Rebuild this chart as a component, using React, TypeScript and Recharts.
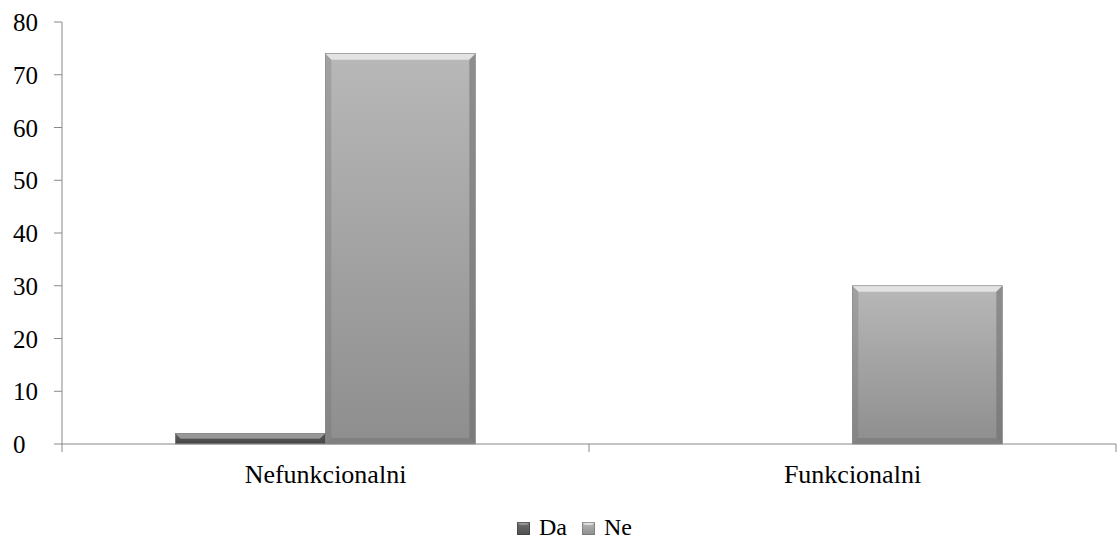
import { Bar, BarChart, Legend, XAxis, YAxis } from "recharts";

const categories = ["Nefunkcionalni", "Funkcionalni"];
const daValues = [2, 0];
const neValues = [74, 30];
const yTicks = [0, 10, 20, 30, 40, 50, 60, 70, 80];

const data = categories.map((name, i) => ({
  name,
  Da: daValues[i],
  Ne: neValues[i],
}));

const W = 1117;
const H = 544;
const LEFT = 62;
const RIGHT = 1;
const BAND = (W - LEFT - RIGHT) / categories.length;
const FONT = "Liberation Serif, Times New Roman, DejaVu Serif, serif";

const palette: Record<string, { top: string; bottom: string; light: string; dark: string }> = {
  Da: { top: "#707070", bottom: "#4e4e4e", light: "#a0a0a0", dark: "#3c3c3c" },
  Ne: { top: "#b8b8b8", bottom: "#8e8e8e", light: "#eaeaea", dark: "#6c6c6c" },
};

function BevelBar(props: any) {
  const { x, y, width, height, dataKey } = props;
  if (!height || height <= 0) return null;
  const c = palette[dataKey];
  const b = Math.min(6, height / 2, width / 2);
  const x2 = x + width;
  const y2 = y + height;
  return (
    <g>
      <rect x={x} y={y} width={width} height={height} fill={`url(#grad-${dataKey})`} />
      <polygon
        points={`${x},${y} ${x2},${y} ${x2 - b},${y + b} ${x + b},${y + b}`}
        fill={c.light}
        opacity={0.85}
      />
      <polygon
        points={`${x},${y} ${x + b},${y + b} ${x + b},${y2 - b} ${x},${y2}`}
        fill={c.dark}
        opacity={0.3}
      />
      <polygon
        points={`${x2},${y} ${x2},${y2} ${x2 - b},${y2 - b} ${x2 - b},${y + b}`}
        fill={c.dark}
        opacity={0.55}
      />
      <polygon
        points={`${x},${y2} ${x + b},${y2 - b} ${x2 - b},${y2 - b} ${x2},${y2}`}
        fill={c.dark}
        opacity={0.4}
      />
      <rect x={x} y={y} width={width} height={height} fill="none" stroke="#7a7a7a" strokeWidth={0.6} />
    </g>
  );
}

function CategoryTick(props: any) {
  const { x, y, payload, index } = props;
  const left = x - BAND / 2;
  return (
    <g>
      <line x1={left} y1={y - 8} x2={left} y2={y} stroke="#888" />
      {index === categories.length - 1 && (
        <line x1={x + BAND / 2} y1={y - 8} x2={x + BAND / 2} y2={y} stroke="#888" />
      )}
      <text
        x={x}
        y={y + 31}
        textAnchor="middle"
        style={{ fontFamily: FONT, fontSize: 26 }}
        fill="#000"
      >
        {payload.value}
      </text>
    </g>
  );
}

function ValueTick(props: any) {
  const { y, payload } = props;
  return (
    <text x={13} y={y + 9} textAnchor="start" style={{ fontFamily: FONT, fontSize: 25 }} fill="#000">
      {payload.value}
    </text>
  );
}

function LegendContent() {
  return (
    <div
      style={{
        boxSizing: "border-box",
        height: 56,
        paddingTop: 27,
        paddingLeft: 33,
        display: "flex",
        justifyContent: "center",
        alignItems: "flex-start",
        gap: 15,
        fontFamily: FONT,
        fontSize: 24,
        lineHeight: "24px",
        color: "#000",
      }}
    >
      {["Da", "Ne"].map((k) => (
        <span key={k} style={{ display: "flex", alignItems: "center", gap: 9 }}>
          <svg width={13} height={13} style={{ marginTop: 3 }}>
            <rect x={0} y={0} width={13} height={13} fill={`url(#grad-${k})`} />
            <polygon points="0,0 13,0 10,3 3,3" fill={palette[k].light} opacity={0.8} />
            <rect x={0.5} y={0.5} width={12} height={12} fill="none" stroke={palette[k].dark} strokeOpacity={0.6} />
          </svg>
          {k}
        </span>
      ))}
    </div>
  );
}

export default function App() {
  return (
    <div style={{ width: W, height: H, background: "#fff" }}>
      <style>{`body{margin:0}`}</style>
      <BarChart
        width={W}
        height={H}
        data={data}
        margin={{ top: 22, right: RIGHT, bottom: 0, left: 0 }}
        barGap={0}
        barCategoryGap="21.5%"
      >
        <defs>
          {Object.entries(palette).map(([k, c]) => (
            <linearGradient key={k} id={`grad-${k}`} x1="0" y1="0" x2="0" y2="1">
              <stop offset="0%" stopColor={c.top} />
              <stop offset="100%" stopColor={c.bottom} />
            </linearGradient>
          ))}
        </defs>
        <XAxis
          dataKey="name"
          height={44}
          axisLine={{ stroke: "#888" }}
          tickLine={false}
          tick={<CategoryTick />}
          interval={0}
        />
        <YAxis
          domain={[0, 80]}
          ticks={yTicks}
          width={LEFT}
          axisLine={{ stroke: "#888" }}
          tickLine={{ stroke: "#888" }}
          tickSize={8}
          tick={<ValueTick />}
          interval={0}
        />
        <Legend verticalAlign="bottom" height={56} content={<LegendContent />} />
        <Bar dataKey="Da" shape={<BevelBar />} isAnimationActive={false} />
        <Bar dataKey="Ne" shape={<BevelBar />} isAnimationActive={false} />
      </BarChart>
    </div>
  );
}
